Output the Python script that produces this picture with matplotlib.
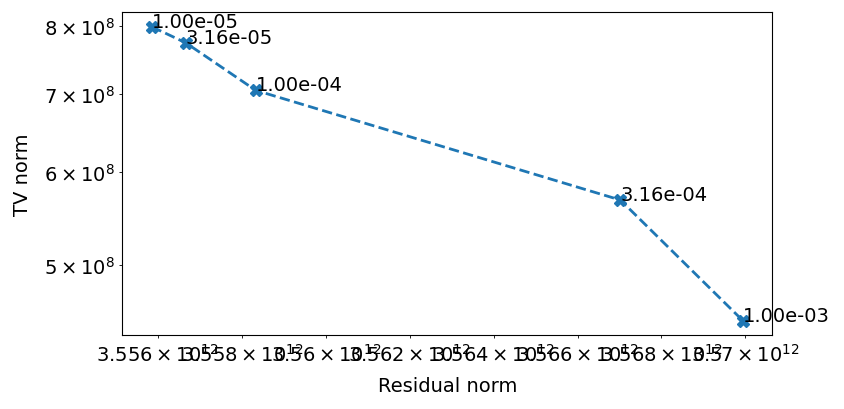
import numpy as np
import matplotlib
matplotlib.use('Agg')
import matplotlib.pyplot as plt

lambdas = [1e-5, 3.16e-5, 1e-4, 3.16e-4, 1e-3]
residual_norm = [3.55586e12, 3.55667e12, 3.55833e12, 3.56702e12, 3.56994e12]
tv_norm = [7.99e8, 7.74e8, 7.05e8, 5.68e8, 4.48e8]

plt.rcParams['font.size'] = 14

fig = plt.figure(figsize=(8.44, 4.10), dpi=100)
plt.loglog(residual_norm, tv_norm, 'X--', color='#1f77b4', linewidth=2, markersize=9)

for r, t, lam in zip(residual_norm, tv_norm, lambdas):
    plt.text(r, t, f'{lam:.2e}')

plt.xlabel('Residual norm', labelpad=8.5)
plt.ylabel('TV norm', labelpad=8.5)

plt.subplots_adjust(left=0.145, right=0.915, top=0.968, bottom=0.18)
plt.savefig('out.png', dpi=100)
